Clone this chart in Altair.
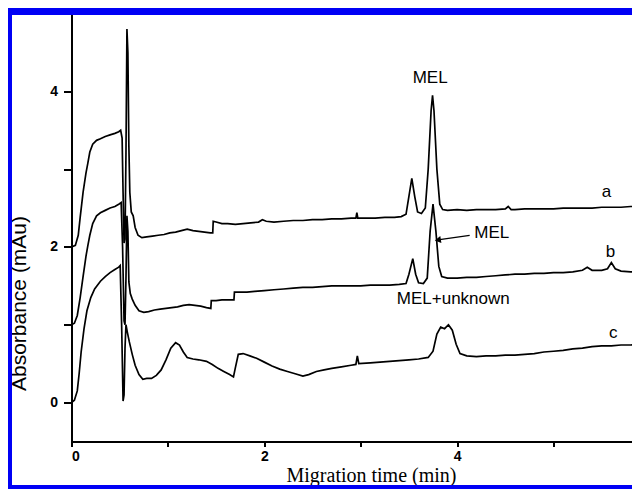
import altair as alt
import pandas as pd

# ---- trace a (top) ----
a_t = [0.00,0.04,0.07,0.09,0.12,0.15,0.17,0.19,0.22,0.26,0.30,0.35,0.40,0.45,0.49,0.51,0.525,0.535,0.545,0.555,0.565,0.575,0.585,0.595,0.605,0.62,0.64,0.66,0.69,0.73,0.78,0.84,0.90,0.96,1.02,1.08,1.14,1.20,1.26,1.32,1.38,1.44,1.465,1.47,1.50,1.56,1.62,1.70,1.78,1.86,1.94,1.98,2.02,2.10,2.20,2.30,2.40,2.50,2.60,2.70,2.80,2.90,2.95,2.96,2.97,3.05,3.15,3.25,3.35,3.42,3.47,3.50,3.53,3.56,3.59,3.63,3.67,3.70,3.73,3.745,3.76,3.79,3.82,3.85,3.90,4.00,4.10,4.20,4.30,4.40,4.50,4.53,4.56,4.60,4.70,4.80,4.90,5.00,5.10,5.20,5.30,5.40,5.50,5.60,5.70,5.80,5.90]
a_v = [2.00,2.02,2.15,2.38,2.70,2.95,3.08,3.22,3.32,3.37,3.39,3.42,3.44,3.46,3.48,3.50,3.40,2.70,2.05,2.10,3.20,4.80,4.50,3.30,2.70,2.45,2.40,2.25,2.15,2.12,2.13,2.14,2.15,2.16,2.18,2.19,2.21,2.23,2.21,2.20,2.19,2.18,2.18,2.33,2.32,2.30,2.30,2.29,2.30,2.31,2.32,2.35,2.33,2.32,2.33,2.34,2.34,2.35,2.35,2.36,2.36,2.37,2.37,2.44,2.37,2.37,2.37,2.38,2.38,2.39,2.42,2.65,2.88,2.65,2.45,2.43,2.50,3.00,3.75,3.95,3.75,3.00,2.55,2.48,2.47,2.48,2.47,2.48,2.48,2.48,2.49,2.52,2.48,2.48,2.49,2.49,2.49,2.49,2.50,2.50,2.50,2.50,2.51,2.51,2.51,2.52,2.52]

# ---- trace b (middle) ----
b_t = [0.00,0.03,0.06,0.09,0.12,0.15,0.17,0.19,0.22,0.26,0.30,0.35,0.40,0.45,0.49,0.515,0.53,0.545,0.555,0.565,0.575,0.585,0.595,0.61,0.63,0.66,0.70,0.75,0.80,0.86,0.92,0.98,1.04,1.10,1.16,1.22,1.28,1.34,1.40,1.445,1.45,1.50,1.56,1.62,1.685,1.69,1.75,1.82,1.90,2.00,2.10,2.20,2.30,2.40,2.50,2.60,2.70,2.80,2.90,3.00,3.10,3.20,3.30,3.40,3.47,3.50,3.54,3.57,3.60,3.65,3.69,3.72,3.75,3.78,3.81,3.84,3.90,4.00,4.10,4.20,4.30,4.40,4.50,4.60,4.70,4.80,4.90,5.00,5.10,5.20,5.30,5.35,5.40,5.50,5.56,5.60,5.64,5.70,5.80,5.90]
b_v = [1.00,1.02,1.12,1.35,1.62,1.88,2.02,2.15,2.30,2.40,2.44,2.47,2.50,2.52,2.55,2.57,2.00,1.05,1.00,1.60,2.40,2.20,1.55,1.40,1.33,1.25,1.18,1.16,1.17,1.19,1.20,1.21,1.22,1.23,1.25,1.26,1.25,1.24,1.22,1.21,1.31,1.31,1.32,1.32,1.32,1.42,1.42,1.42,1.43,1.44,1.45,1.46,1.47,1.48,1.48,1.49,1.50,1.50,1.50,1.50,1.51,1.51,1.51,1.52,1.53,1.65,1.85,1.65,1.54,1.53,1.60,2.20,2.55,2.20,1.75,1.62,1.60,1.60,1.61,1.61,1.62,1.63,1.64,1.65,1.65,1.66,1.66,1.67,1.67,1.68,1.70,1.74,1.70,1.70,1.72,1.80,1.72,1.69,1.68,1.67]

# ---- trace c (bottom) ----
c_t = [0.00,0.03,0.06,0.08,0.10,0.13,0.16,0.20,0.24,0.30,0.35,0.40,0.45,0.49,0.505,0.52,0.535,0.545,0.555,0.565,0.58,0.60,0.63,0.66,0.70,0.74,0.78,0.83,0.88,0.93,0.98,1.03,1.08,1.12,1.16,1.20,1.26,1.32,1.40,1.46,1.52,1.58,1.64,1.68,1.70,1.73,1.78,1.85,1.92,2.00,2.08,2.16,2.24,2.32,2.40,2.46,2.54,2.62,2.70,2.80,2.90,2.95,2.965,2.98,3.10,3.20,3.30,3.40,3.50,3.60,3.70,3.75,3.79,3.83,3.87,3.91,3.95,3.99,4.03,4.10,4.20,4.30,4.40,4.50,4.60,4.70,4.80,4.90,5.00,5.10,5.20,5.30,5.40,5.50,5.60,5.70,5.80,5.90]
c_v = [0.00,0.03,0.15,0.38,0.65,0.95,1.18,1.35,1.46,1.56,1.62,1.67,1.71,1.74,1.76,1.00,0.02,0.10,0.70,1.00,0.90,0.78,0.62,0.48,0.36,0.30,0.31,0.31,0.35,0.42,0.55,0.70,0.77,0.74,0.65,0.58,0.56,0.55,0.53,0.49,0.44,0.40,0.36,0.33,0.45,0.62,0.63,0.60,0.57,0.52,0.47,0.43,0.40,0.37,0.34,0.36,0.40,0.42,0.44,0.46,0.48,0.49,0.60,0.50,0.51,0.52,0.53,0.54,0.55,0.56,0.58,0.66,0.88,0.97,0.95,1.00,0.93,0.75,0.63,0.60,0.59,0.60,0.60,0.61,0.61,0.62,0.63,0.65,0.66,0.67,0.69,0.70,0.72,0.73,0.73,0.74,0.74,0.75]

# ---- annotations ----
ann_text = ["MEL", "MEL", "MEL+unknown", "a", "b", "c"]
ann_t = [3.72, 4.36, 3.96, 5.55, 5.59, 5.62]
ann_v = [4.17, 2.18, 1.33, 2.70, 1.94, 0.90]

arrow_t = [4.13, 3.80]
arrow_v = [2.15, 2.09]

x_ticks = [0, 1, 2, 3, 4, 5]
y_ticks = [0, 1, 2, 3, 4]

rows = []
for name, ts, vs in (("a", a_t, a_v), ("b", b_t, b_v), ("c", c_t, c_v)):
    for i, (t, v) in enumerate(zip(ts, vs)):
        rows.append({"trace": name, "t": t, "v": v, "i": i})
df = pd.DataFrame(rows)
ann = pd.DataFrame({"label": ann_text, "t": ann_t, "v": ann_v})
arr = pd.DataFrame({"t": [arrow_t[0]], "v": [arrow_v[0]], "t2": [arrow_t[1]], "v2": [arrow_v[1]]})
tip = pd.DataFrame({"t": [arrow_t[1]], "v": [arrow_v[1]]})

PLOT_W = 560.5
PLOT_H = 428
xscale = alt.Scale(domain=[0, 5.814], nice=False, zero=False)
yscale = alt.Scale(domain=[-0.5, 5.0], nice=False, zero=False)

even = "datum.value % 2 === 0 ? datum.label : ''"

x_axis = alt.Axis(values=x_ticks, labelExpr=even, format="d", title="Migration time (min)",
                  tickSize=5, labelPadding=3,
                  titleFont="Liberation Serif", titleFontSize=20, titleFontWeight="normal",
                  titleBaseline="alphabetic", titleX=299.5, titleY=40, titleAlign="center")
y_axis = alt.Axis(values=y_ticks, labelExpr=even, format="d", title="Absorbance (mAu)",
                  tickSize=8, labelPadding=6,
                  titleFont="Liberation Sans", titleFontSize=21, titleFontWeight="normal",
                  titleAngle=270, titleBaseline="bottom", titleX=-42.5, titleY=289.5, titleAlign="center")

lines = alt.Chart(df).mark_line(color="black", strokeWidth=1.7, clip=True).encode(
    x=alt.X("t:Q", scale=xscale, axis=x_axis),
    y=alt.Y("v:Q", scale=yscale, axis=y_axis),
    detail="trace:N",
    order="i:Q",
)

texts = alt.Chart(ann).mark_text(font="Liberation Sans", fontSize=17, color="black").encode(
    x=alt.X("t:Q", scale=xscale), y=alt.Y("v:Q", scale=yscale), text="label:N"
)

arrow_line = alt.Chart(arr).mark_rule(color="black", strokeWidth=1.3).encode(
    x=alt.X("t:Q", scale=xscale), y=alt.Y("v:Q", scale=yscale), x2="t2:Q", y2="v2:Q"
)
arrow_head = alt.Chart(tip).mark_point(shape="triangle-left", filled=True, color="black",
                                        size=50, opacity=1, angle=351).encode(
    x=alt.X("t:Q", scale=xscale), y=alt.Y("v:Q", scale=yscale)
)

one = pd.DataFrame({"k": [0]})
blue = "#0000f5"
border_top = alt.Chart(one).mark_rect(color=blue).encode(
    x=alt.value(-70), x2=alt.value(620), y=alt.value(-6), y2=alt.value(1.5))
border_left = alt.Chart(one).mark_rect(color=blue).encode(
    x=alt.value(-70), x2=alt.value(-59.5), y=alt.value(-6), y2=alt.value(480))
border_bottom = alt.Chart(one).mark_rect(color=blue).encode(
    x=alt.value(-70), x2=alt.value(620), y=alt.value(471.5), y2=alt.value(480))

chart = alt.layer(lines, texts, arrow_line, arrow_head, border_top, border_left, border_bottom).properties(
    width=PLOT_W, height=PLOT_H,
    autosize=alt.AutoSizeParams(type="none"),
    padding={"left": 63.5, "top": 5.5, "right": 0, "bottom": 47.5},
    background="white",
).configure_view(stroke=None).configure_axis(
    grid=False, domainColor="black", domainWidth=2, tickColor="black", tickWidth=2,
    labelFont="Liberation Sans", labelFontWeight="bold", labelFontSize=14, labelColor="black",
    titleColor="black",
)

chart.save("out.html", embed_options={"renderer": "svg", "actions": False})
